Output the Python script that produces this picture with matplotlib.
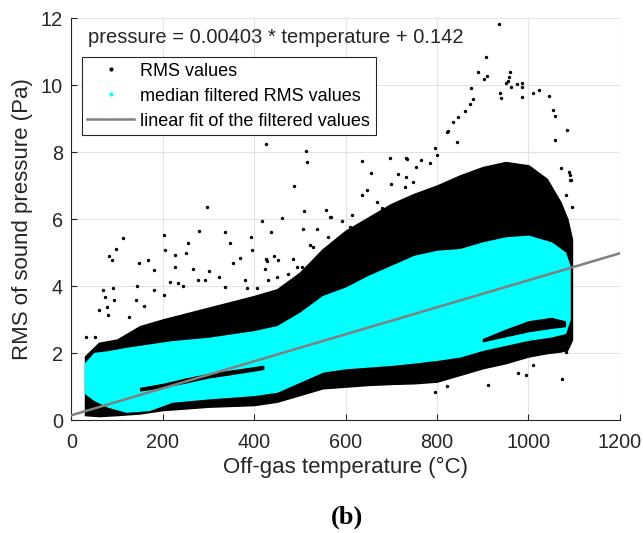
import matplotlib
matplotlib.use('Agg')
import matplotlib.pyplot as plt
import numpy as np
from matplotlib.lines import Line2D

plt.rcParams['font.family'] = ['Liberation Sans', 'DejaVu Sans']

# envelope of the dense cloud of raw RMS values
env_t = [30, 60, 100, 150, 200, 300, 400, 450, 500, 550, 600, 650, 700, 750,
         800, 850, 900, 950, 1000, 1040, 1070, 1085, 1095]
raw_hi = [1.9, 2.3, 2.4, 2.8, 3.0, 3.35, 3.7, 3.9, 4.4, 5.1, 5.65, 6.05, 6.45, 6.75,
          7.0, 7.3, 7.55, 7.7, 7.6, 7.2, 6.5, 6.0, 5.4]
raw_lo = [0.15, 0.12, 0.15, 0.2, 0.3, 0.4, 0.45, 0.55, 0.75, 0.95, 1.0, 1.05, 1.08, 1.1,
          1.15, 1.35, 1.55, 1.7, 1.9, 2.0, 2.05, 2.1, 2.4]

# envelope of the median filtered values
med_t = [30, 50, 80, 120, 170, 220, 300, 400, 450, 500, 550, 600, 650, 700, 750,
         800, 850, 900, 950, 1000, 1050, 1080, 1090]
med_hi = [1.7, 2.0, 2.05, 2.15, 2.25, 2.35, 2.45, 2.65, 2.8, 3.2, 3.7, 3.95, 4.3, 4.6, 4.9,
          5.05, 5.1, 5.3, 5.45, 5.5, 5.3, 5.0, 4.6]
med_lo = [0.8, 0.6, 0.4, 0.25, 0.3, 0.55, 0.65, 0.75, 0.85, 1.15, 1.45, 1.55, 1.6, 1.65, 1.72,
          1.8, 1.9, 2.1, 2.25, 2.4, 2.5, 2.6, 3.0]

# black streaks of raw values inside the filtered band
streak_t = [150, 200, 250, 300, 350, 420]
streak_lo = [0.88, 0.98, 1.12, 1.27, 1.37, 1.52]
streak_hi = [0.96, 1.08, 1.24, 1.38, 1.48, 1.62]
patch_t = [900, 950, 1000, 1050, 1080]
patch_lo = [2.35, 2.5, 2.65, 2.75, 2.8]
patch_hi = [2.42, 2.7, 2.95, 3.05, 2.95]

# scattered raw values outside the dense cloud
out_t = [426, 513, 516, 488, 296, 510, 557, 461, 417, 113, 203, 280, 337, 394, 437, 506,
         538, 256, 348, 97, 935, 907, 890, 903, 910, 960, 956, 874, 1024, 1045, 986, 1054,
         1059, 1084, 846, 879, 861, 635, 698, 735, 656, 1089, 1092, 566, 592, 825, 843,
         83, 89, 149, 167, 181, 204, 226, 227, 251, 266, 302, 353, 395, 370, 428, 143, 32,
         52, 70, 74, 92, 94, 78, 81, 60, 125, 141, 158, 180, 202, 216, 234, 244, 278, 293,
         322, 337, 380, 384, 406, 424, 568, 615, 636, 646, 523, 529, 562, 584, 587, 609,
         484, 494, 443, 453, 426, 474, 504, 509, 544, 431, 449, 715, 700, 733, 730, 748,
         755, 668, 679, 690, 631, 646, 785, 799, 766, 733, 958, 951, 962, 975, 985, 985,
         937, 941, 1011, 872, 835, 821, 795, 1058, 1072, 1091, 1094, 1083, 1096,
         912, 1073, 977, 995, 1011, 795, 821, 1083]
out_p = [8.24, 8.03, 7.69, 7.0, 6.35, 6.24, 6.27, 6.03, 5.93, 5.43, 5.52, 5.65, 5.62, 5.47,
         5.6, 5.69, 5.69, 5.29, 5.29, 5.12, 11.82, 10.85, 10.4, 10.19, 10.26, 10.4, 10.13,
         9.9, 9.85, 9.66, 9.63, 9.27, 9.07, 8.67, 9.05, 9.58, 9.23, 7.72, 7.83, 7.78, 7.37,
         7.41, 7.16, 6.07, 5.95, 8.64, 8.31, 4.9, 4.77, 4.68, 4.77, 4.47, 5.07, 4.94, 4.56,
         4.99, 4.5, 4.46, 4.68, 5.07, 4.83, 4.76, 4.0, 2.47, 2.49, 3.88, 3.68, 3.93, 3.58,
         3.38, 3.13, 3.28, 3.08, 3.58, 3.4, 3.88, 3.73, 4.13, 4.1, 4.0, 4.18, 4.18, 4.28,
         3.96, 4.18, 3.93, 3.95, 4.5, 6.05, 6.11, 6.71, 6.87, 5.24, 5.17, 5.45, 5.39, 5.22,
         5.77, 4.82, 4.58, 4.9, 4.78, 4.8, 4.36, 4.58, 4.46, 4.87, 4.18, 4.28, 7.36, 7.06,
         7.26, 6.96, 7.11, 7.56, 6.52, 6.32, 6.17, 5.62, 5.72, 7.66, 7.91, 7.76, 7.81,
         10.25, 10.05, 9.93, 10.03, 10.05, 9.95, 9.75, 9.6, 9.75, 9.45, 8.9, 8.6, 8.11,
         8.36, 7.51, 7.31, 7.16, 6.72, 6.37, 1.04, 1.21, 1.39, 1.34, 1.64, 0.85, 1.01, 2.04]

slope, intercept = 0.00403, 0.142
fit_t = [0, 1200]

cyan = '#00ffff'
ink = '#262626'
fig = plt.figure(figsize=(6.43, 5.33), dpi=100)
ax = fig.add_axes([0.111, 0.212, 0.853, 0.754])

ax.fill_between(env_t, raw_lo, raw_hi, color='black', lw=1.2, zorder=1)
ax.scatter(out_t, out_p, s=6, color='black', lw=0, zorder=1)
ax.fill_between(med_t, med_lo, med_hi, color=cyan, lw=1.0, zorder=2)
ax.fill_between(streak_t, streak_lo, streak_hi, color='black', lw=0.8, zorder=3)
ax.fill_between(patch_t, patch_lo, patch_hi, color='black', lw=0.8, zorder=3)
fit_p = [slope * t + intercept for t in fit_t]
ax.plot(fit_t, fit_p, color='#808080', lw=1.8, zorder=4)

ax.set_xlim(0, 1200)
ax.set_ylim(0, 12)
ax.set_xticks(range(0, 1201, 200))
ax.set_yticks(range(0, 13, 2))
ax.grid(True, color='#e3e3e3', lw=0.8)
ax.set_axisbelow(True)
for s in ['top', 'right']:
    ax.spines[s].set_visible(False)
for s in ['left', 'bottom']:
    ax.spines[s].set_color(ink)
    ax.spines[s].set_linewidth(0.8)
ax.tick_params(direction='in', length=4, width=0.8, color=ink,
               labelsize=14.3, labelcolor=ink)
ax.tick_params(axis='x', pad=9)
ax.tick_params(axis='y', pad=6)
ax.set_xlabel('Off-gas temperature (°C)', fontsize=16, color=ink, labelpad=4)
ax.set_ylabel('RMS of sound pressure (Pa)', fontsize=16, color=ink, labelpad=6)

ax.text(36, 11.43, 'pressure = 0.00403 * temperature + 0.142', fontsize=14.5,
        va='center', ha='left', color=ink)

handles = [
    Line2D([], [], ls='none', marker='.', ms=4, color='black'),
    Line2D([], [], ls='none', marker='.', ms=4, color=cyan),
    Line2D([], [], color='#808080', lw=1.8),
]
labels = ['RMS values', 'median filtered RMS values', 'linear fit of the filtered values']
leg = ax.legend(handles, labels, loc='upper left', bbox_to_anchor=(0.019, 0.903),
                borderaxespad=0, fontsize=13, fancybox=False, framealpha=1,
                edgecolor=ink, handlelength=2.6, handletextpad=0.35,
                labelspacing=0.45, borderpad=0.3)
leg.get_frame().set_linewidth(0.8)

fig.text(0.54, 0.03, '(b)', fontsize=19, fontweight='bold',
         family='Liberation Serif', ha='center', va='center')

fig.savefig('out.png', dpi=100)
